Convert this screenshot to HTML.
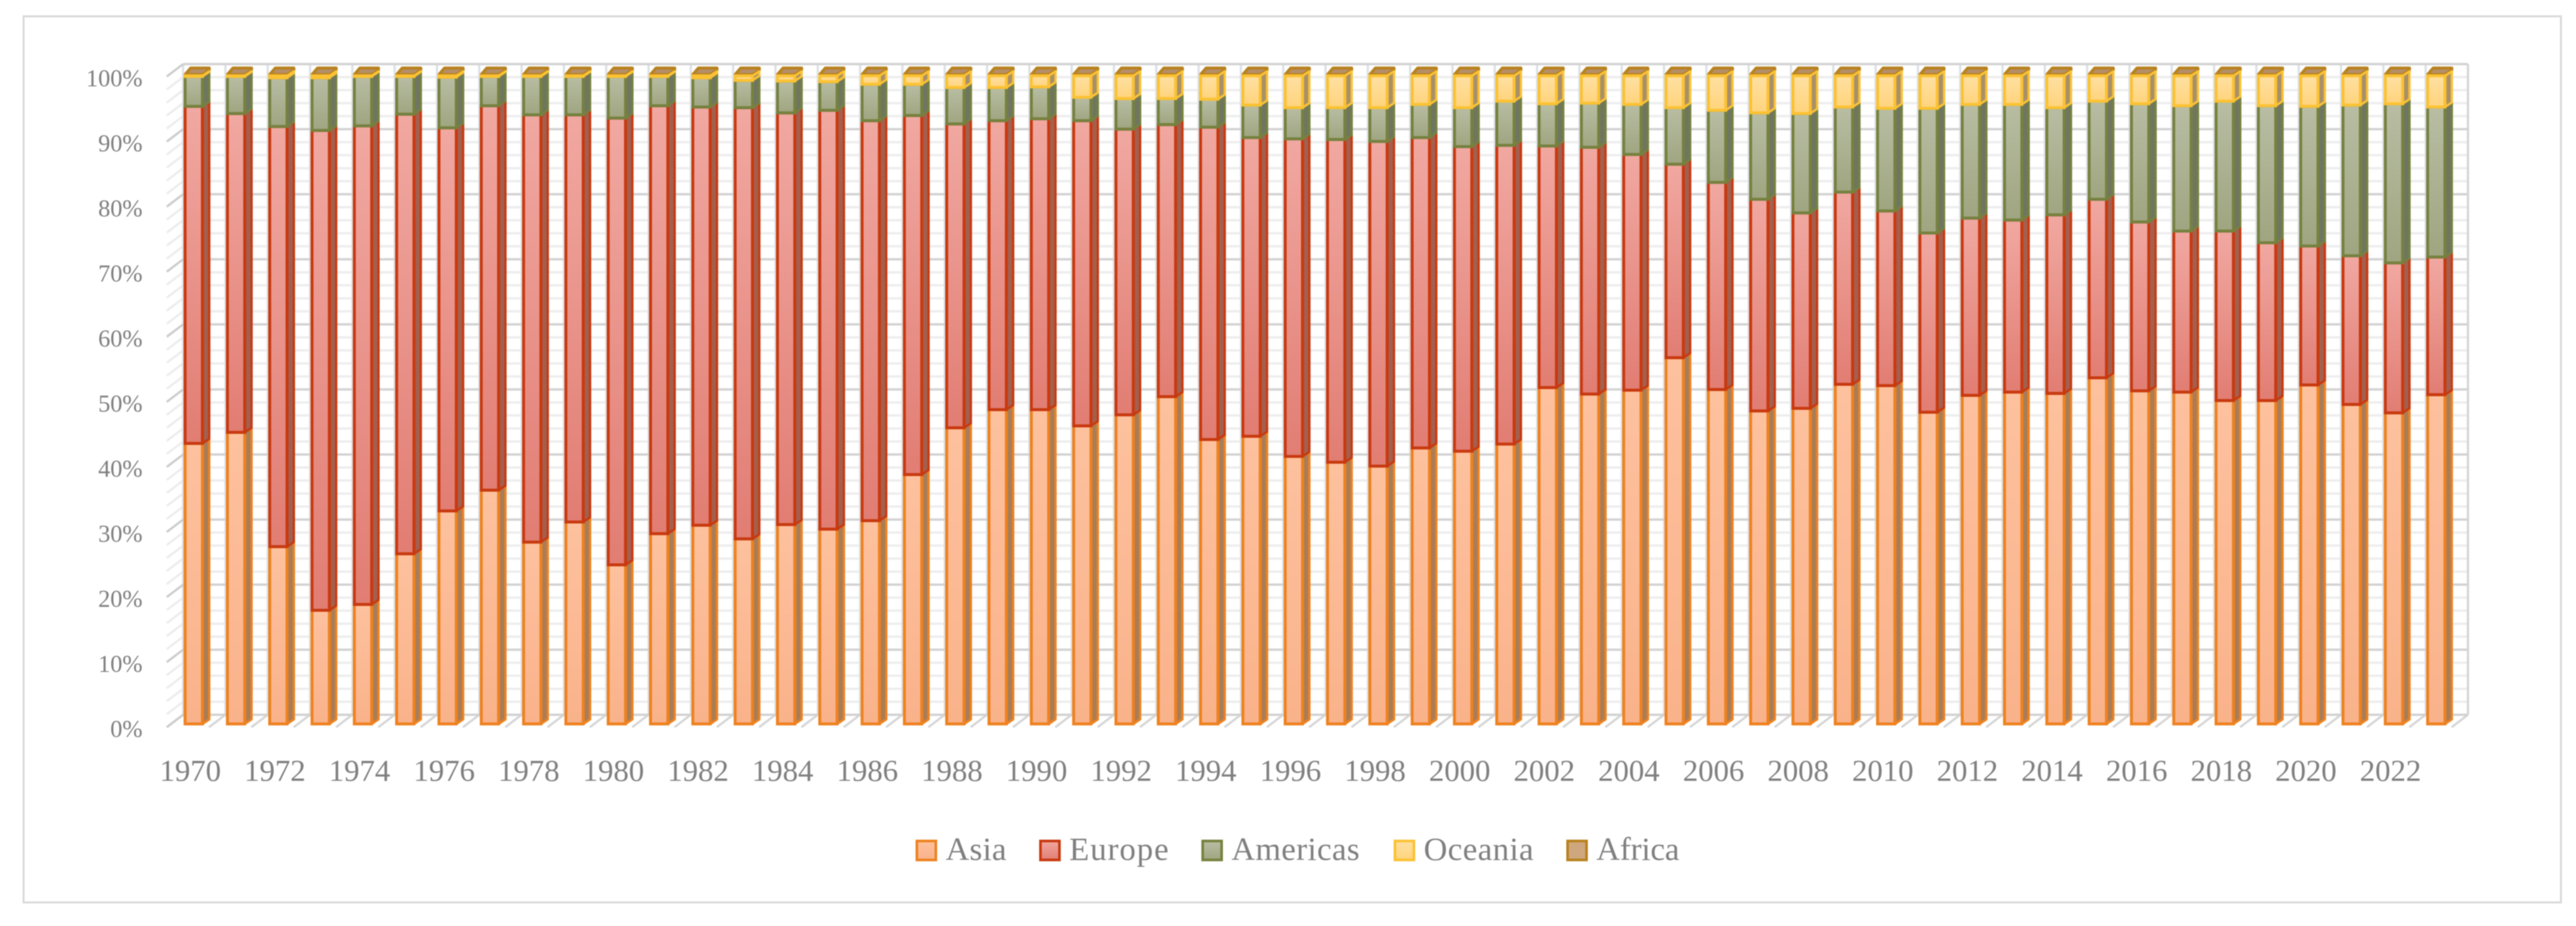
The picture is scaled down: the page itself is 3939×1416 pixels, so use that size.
<!DOCTYPE html>
<html lang="en">
<head>
<meta charset="utf-8">
<title>Stacked 3D column chart by region, 1970-2023</title>
<style>
html,body{margin:0;padding:0;background:#fff;width:3939px;height:1416px;overflow:hidden}
svg{display:block;filter:blur(0.7px)}
text{font-family:"Liberation Serif",serif;fill:#7f7f7f}
</style>
</head>
<body>
<svg id="chart" xmlns="http://www.w3.org/2000/svg" width="3939" height="1416" viewBox="0 0 3939 1416">
<defs>
<linearGradient id="g-asia" x1="0" y1="0" x2="0" y2="1"><stop offset="0" stop-color="#fdc19e"/><stop offset="1" stop-color="#f9b28a"/></linearGradient>
<linearGradient id="g-europe" x1="0" y1="0" x2="0" y2="1"><stop offset="0" stop-color="#f0a8a1"/><stop offset="1" stop-color="#e17d73"/></linearGradient>
<linearGradient id="g-americas" x1="0" y1="0" x2="0" y2="1"><stop offset="0" stop-color="#b8bda3"/><stop offset="1" stop-color="#9fa580"/></linearGradient>
<linearGradient id="g-oceania" x1="0" y1="0" x2="0" y2="1"><stop offset="0" stop-color="#fee0a2"/><stop offset="1" stop-color="#ffd37c"/></linearGradient>
</defs>
<rect x="36" y="25" width="3880" height="1355" fill="#fff" stroke="#d9d9d9" stroke-width="3"/>
<g id="walls"></g>
<g id="bars"></g>
<g id="yaxis"></g>
<g id="xaxis"></g>
<g id="legend"></g>
</svg>
<script>
const years = [1970,1971,1972,1973,1974,1975,1976,1977,1978,1979,1980,1981,1982,1983,1984,1985,1986,1987,1988,1989,1990,1991,1992,1993,1994,1995,1996,1997,1998,1999,2000,2001,2002,2003,2004,2005,2006,2007,2008,2009,2010,2011,2012,2013,2014,2015,2016,2017,2018,2019,2020,2021,2022,2023];
const asia = [43.2,44.9,27.3,17.5,18.4,26.2,32.8,36.0,28.0,31.1,24.5,29.3,30.6,28.5,30.7,30.0,31.3,38.4,45.6,48.4,48.4,45.9,47.6,50.4,43.8,44.3,41.2,40.3,39.7,42.5,42.0,43.1,51.8,50.8,51.4,56.4,51.5,48.2,48.6,52.3,52.1,48.0,50.6,51.1,50.9,53.3,51.3,51.1,49.8,49.8,52.2,49.2,47.9,50.7];
const europe = [51.9,49.1,64.7,73.9,73.7,67.7,59.0,59.2,65.8,62.7,68.8,65.9,64.4,66.4,63.4,64.5,61.6,55.3,46.8,44.5,44.8,47.0,44.0,41.9,48.1,46.0,48.9,49.7,50.0,47.8,46.9,46.0,37.2,38.0,36.3,29.8,31.9,32.6,30.1,29.6,26.9,27.6,27.3,26.5,27.5,27.5,26.0,24.8,26.1,24.3,21.4,22.9,23.1,21.2];
const americas = [4.6,5.7,7.5,8.1,7.6,5.8,7.8,4.5,5.9,5.9,6.4,4.5,4.5,4.2,4.9,4.4,5.6,4.8,5.6,5.1,4.9,3.6,4.7,4.0,4.3,5.0,4.8,4.9,5.2,5.1,6.0,6.8,6.5,6.8,7.7,8.7,11.1,13.3,15.3,13.1,15.8,19.2,17.5,17.8,16.5,15.1,18.2,19.3,20.0,21.1,21.5,23.2,24.5,23.1];
const oceania = [0.1,0.1,0.3,0.3,0.1,0.1,0.2,0.1,0.1,0.1,0.1,0.1,0.3,0.7,0.8,0.9,1.3,1.3,1.8,1.8,1.7,3.3,3.5,3.5,3.6,4.5,4.9,4.9,4.9,4.4,4.9,3.9,4.3,4.2,4.4,4.9,5.3,5.7,5.8,4.8,5.0,5.0,4.4,4.4,4.9,3.9,4.3,4.6,3.9,4.6,4.7,4.5,4.3,4.8];
const africa = [0.2,0.2,0.2,0.2,0.2,0.2,0.2,0.2,0.2,0.2,0.2,0.2,0.2,0.2,0.2,0.2,0.2,0.2,0.2,0.2,0.2,0.2,0.2,0.2,0.2,0.2,0.2,0.2,0.2,0.2,0.2,0.2,0.2,0.2,0.2,0.2,0.2,0.2,0.2,0.2,0.2,0.2,0.2,0.2,0.2,0.2,0.2,0.2,0.2,0.2,0.2,0.2,0.2,0.2];
const percentTicks = [0,10,20,30,40,50,60,70,80,90,100];
const minorTicks = [2,4,6,8,12,14,16,18,22,24,26,28,32,34,36,38,42,44,46,48,52,54,56,58,62,64,66,68,72,74,76,78,82,84,86,88,92,94,96,98];
const seriesNames = ["Asia","Europe","Americas","Oceania","Africa"];

const NS = "http://www.w3.org/2000/svg";
const PITCH = 64.7, FRONT_W = 26.5, DX = 10.5, DY = 7;
function barX(i){ return 283 + PITCH * i; }
function barY(v){ return 1107 - v * 9.93; }
function wallX(i){ return 280 + PITCH * i; }
function wallY(v){ return 1093 - v * 9.95; }
function mk(parent, tag, attrs, txt){
  const el = document.createElementNS(NS, tag);
  for (const k in attrs) el.setAttribute(k, attrs[k]);
  if (txt !== undefined) el.textContent = txt;
  parent.appendChild(el);
  return el;
}
const walls = document.getElementById("walls");
const barsG = document.getElementById("bars");
const yaxis = document.getElementById("yaxis");
const xaxis = document.getElementById("xaxis");
const legend = document.getElementById("legend");

/* minor gridlines */
minorTicks.forEach(function(v){
  const back = mk(walls, "line", {x1:wallX(0),x2:wallX(years.length),y1:wallY(v),y2:wallY(v),stroke:"#ededed","stroke-width":3.5});
  
  
  const side = mk(walls, "line", {x1:wallX(0)-25,x2:wallX(0),y1:wallY(v)+19,y2:wallY(v),stroke:"#ededed","stroke-width":3.5});
  
  
});
/* vertical category lines and floor diagonals */
for (let i = 0; i <= years.length; i++){
  const vline = mk(walls, "line", {x1:wallX(i),x2:wallX(i),y1:wallY(100),y2:wallY(0),stroke:i===years.length?"#d6d6d6":"#dde1e6","stroke-width":3.5});
  
  
  const floor = mk(walls, "line", {x1:wallX(i)-25,x2:wallX(i),y1:wallY(0)+19,y2:wallY(0),stroke:"#d6d6d6","stroke-width":3.5});
  
  
}
/* major gridlines and y labels */
percentTicks.forEach(function(v){
  const back = mk(walls, "line", {x1:wallX(0),x2:wallX(years.length),y1:wallY(v),y2:wallY(v),stroke:"#d2d2d2","stroke-width":3.5});
  
  
  const side = mk(walls, "line", {x1:wallX(0)-25,x2:wallX(0),y1:wallY(v)+19,y2:wallY(v),stroke:"#cdcdcd","stroke-width":3.5});
  
  
  const lab = mk(yaxis, "text", {x:218,y:wallY(v)+34,"text-anchor":"end","font-size":37}, v + "%");
  
  
});
/* x labels: every second year */
years.forEach(function(y, i){
  if (i % 2 !== 0) return;
  const lab = mk(xaxis, "text", {x:barX(i)+8,y:1194,"text-anchor":"middle","font-size":47}, String(y));
  
  
});

const styles = {
  Asia:{front:"url(#g-asia)",stroke:"#ee8220",side:"#a87d58"},
  Europe:{front:"url(#g-europe)",stroke:"#c8390f",side:"#a3604f"},
  Americas:{front:"url(#g-americas)",stroke:"#76813f",side:"#6f7660"},
  Oceania:{front:"url(#g-oceania)",stroke:"#fbc233",side:"#a89068"},
  Africa:{front:"#b58f6a",stroke:"#b8821e",side:"#a5835e"}
};
function drawSegment(parent, i, lo, hi, name){
  const s = styles[name], x1 = barX(i), x2 = x1 + FRONT_W, yb = barY(lo), yt = barY(hi);
  const sideFace = mk(parent, "polygon", {
    points:[x2,yb, x2+DX,yb-DY, x2+DX,yt-DY, x2,yt].join(","),
    fill:s.side, stroke:s.stroke, "stroke-width":3.5, "stroke-linejoin":"round"});
  
  
  const front = mk(parent, "rect", {x:x1,y:yt,width:FRONT_W,height:Math.max(yb-yt,0.5),
    fill:s.front, stroke:s.stroke, "stroke-width":4.5});
  
  
}
years.forEach(function(year, i){
  const g = mk(barsG, "g", {});
  
  
  const a = asia[i], b = a + europe[i], c = b + americas[i], d = c + oceania[i], e = d + africa[i];
  drawSegment(g, i, 0, a, "Asia");
  drawSegment(g, i, a, b, "Europe");
  drawSegment(g, i, b, c, "Americas");
  /* Africa is a hair-thin layer, seen as the brown cap on top of the column */
  const x1 = barX(i), x2 = x1 + FRONT_W, yt = barY(e);
  const cap = mk(g, "polygon", {
    points:[x1,yt, x2,yt, x2+DX,yt-DY, x2+DX,yt-10, x1+8.5,yt-10].join(","),
    fill:"#b58f6a", stroke:"#b8821e", "stroke-width":4.5, "stroke-linejoin":"round"});
  
  
  drawSegment(g, i, c, d, "Oceania");
});

/* legend */
const legendX = [1400,1589,1837,2131,2395];
const legendW = [93,152,196,168,127];
seriesNames.forEach(function(n, i){
  const s = styles[n];
  const sw = mk(legend, "rect", {x:legendX[i]+2,y:1286,width:29,height:29,fill:n==="Africa"?"#cfa77f":s.front,stroke:s.stroke,"stroke-width":4});
  
  
  const t = mk(legend, "text", {x:legendX[i]+46,y:1315,"font-size":50,textLength:legendW[i],lengthAdjust:"spacing"}, n);
  
  
});
</script>
</body>
</html>
